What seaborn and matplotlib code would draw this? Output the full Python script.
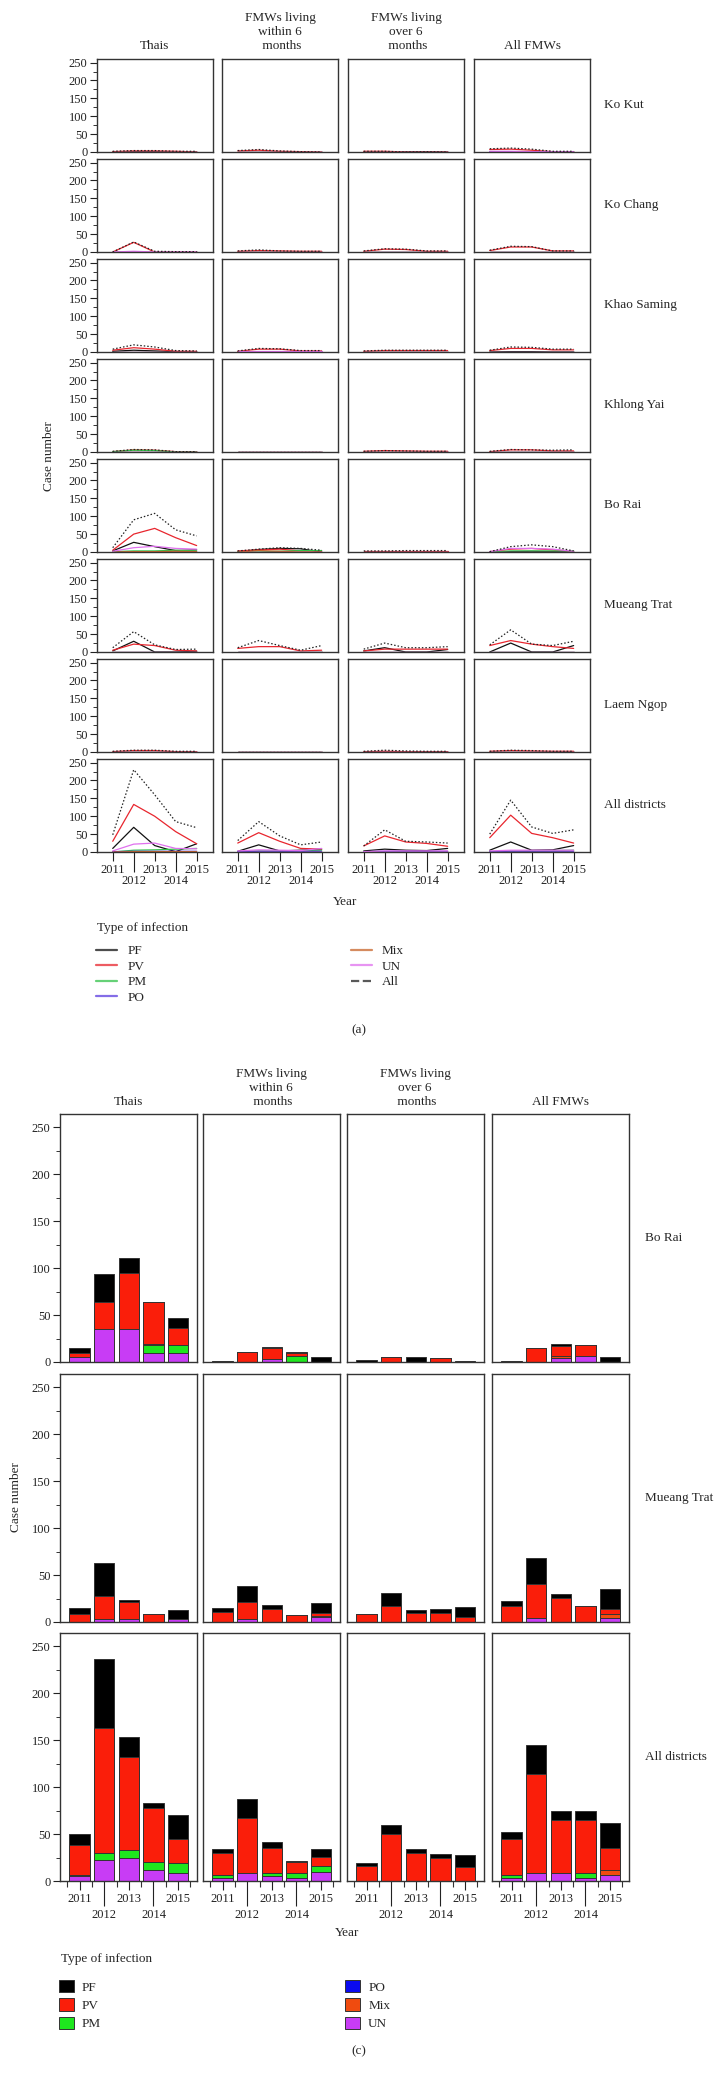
import numpy as np
import matplotlib
matplotlib.use("Agg")
import matplotlib.pyplot as plt
import seaborn as sns
from matplotlib.lines import Line2D
from matplotlib.patches import Patch

# ---- data -------------------------------------------------------------
years = [2011, 2012, 2013, 2014, 2015]
year_labels = [str(y) for y in years]
groups = ["Thais", "FMWs living\nwithin 6\n months", "FMWs living\nover 6\n months", "All FMWs"]
districts_a = ["Ko Kut", "Ko Chang", "Khao Saming", "Khlong Yai", "Bo Rai",
               "Mueang Trat", "Laem Ngop", "All districts"]
districts_c = ["Bo Rai", "Mueang Trat", "All districts"]

z = [0, 0, 0, 0, 0]

# (a) line panels: [district][group][year]
line_pf = [
    [[0, 1, 1, 0, 0], z, [0, 0, 1, 1, 0], z],
    [z, z, z, z],
    [[2, 5, 3, 1, 1], [0, 1, 1, 0, 0], z, [0, 1, 1, 0, 0]],
    [z, z, z, z],
    [[3, 27, 15, 4, 6], [0, 7, 10, 9, 0], z, [0, 1, 2, 1, 0]],
    [[3, 30, 0, 0, 2], z, [3, 12, 0, 0, 7], [0, 25, 0, 0, 18]],
    [z, z, z, z],
    [[10, 69, 18, 1, 23], [2, 20, 3, 5, 8], [3, 8, 5, 4, 10], [5, 28, 5, 6, 18]],
]
line_pv = [
    [[1, 3, 3, 2, 0], [3, 5, 2, 1, 0], [2, 2, 0, 0, 0], [7, 8, 5, 1, 1]],
    [[0, 27, 0, 0, 0], [2, 4, 3, 2, 2], [2, 8, 7, 2, 2], [4, 14, 14, 3, 3]],
    [[5, 12, 8, 2, 2], [2, 8, 8, 3, 3], [2, 4, 4, 4, 4], [4, 10, 10, 6, 6]],
    [[1, 6, 5, 1, 1], [1, 1, 1, 1, 1], [2, 4, 3, 2, 2], [1, 6, 6, 3, 3]],
    [[5, 50, 66, 40, 18], [3, 6, 8, 3, 3], [2, 2, 2, 2, 2], [1, 8, 10, 6, 2]],
    [[5, 22, 18, 5, 3], [10, 15, 15, 3, 5], [3, 8, 8, 8, 8], [18, 32, 22, 15, 10]],
    [[1, 4, 4, 1, 1], [1, 1, 1, 1, 1], [1, 2, 1, 1, 1], [2, 4, 3, 2, 2]],
    [[30, 133, 100, 57, 23], [25, 54, 30, 10, 8], [17, 45, 28, 24, 16], [40, 103, 52, 40, 25]],
]
line_pm = [
    [z, z, z, z],
    [z, z, z, z],
    [z, z, z, z],
    [[1, 5, 4, 0, 0], z, z, z],
    [[1, 3, 3, 5, 3], [0, 0, 2, 4, 4], z, [0, 3, 3, 3, 3]],
    [z, z, z, z],
    [z, z, z, z],
    [[0, 5, 6, 8, 10], [1, 3, 3, 4, 5], z, [1, 3, 3, 4, 5]],
]
line_po = [
    [z, z, z, [1, 1, 0, 0, 0]],
    [z, z, z, z],
    [z, z, z, z],
    [z, z, z, z],
    [z, z, z, z],
    [z, z, z, z],
    [z, [1, 1, 1, 1, 1], z, z],
    [[1, 2, 2, 2, 2], [1, 2, 2, 2, 2], [1, 2, 2, 2, 2], [1, 2, 2, 2, 2]],
]
line_mix = [
    [z, z, z, z],
    [z, z, z, z],
    [z, z, z, z],
    [z, z, z, z],
    [[0, 1, 1, 2, 1], [0, 4, 2, 0, 0], z, z],
    [z, z, z, z],
    [z, z, z, z],
    [[0, 1, 1, 1, 1], z, z, z],
]
line_un = [
    [z, z, z, [2, 2, 1, 0, 0]],
    [[0, 2, 0, 0, 0], z, z, z],
    [z, [3, 3, 3, 3, 3], z, z],
    [z, z, z, z],
    [[2, 12, 16, 10, 8], z, z, [1, 10, 10, 8, 2]],
    [z, z, z, z],
    [z, z, z, z],
    [[3, 22, 25, 10, 9], [3, 6, 5, 4, 10], [1, 3, 3, 3, 3], [3, 5, 5, 5, 5]],
]
line_all = [
    [[2, 4, 4, 2, 2], [4, 7, 3, 1, 0], [2, 2, 0, 1, 0], [9, 11, 8, 2, 2]],
    [[0, 28, 2, 1, 1], [3, 6, 3, 2, 2], [3, 9, 8, 3, 3], [5, 16, 15, 3, 3]],
    [[8, 20, 14, 4, 3], [3, 10, 9, 4, 4], [3, 5, 5, 5, 5], [5, 14, 13, 8, 8]],
    [[2, 7, 6, 1, 1], [1, 1, 1, 1, 1], [2, 4, 3, 2, 2], [2, 7, 6, 5, 6]],
    [[12, 90, 108, 62, 45], [3, 8, 12, 10, 5], [3, 3, 4, 4, 4], [1, 15, 20, 15, 3]],
    [[12, 57, 20, 7, 8], [12, 32, 18, 5, 18], [8, 25, 12, 12, 15], [20, 62, 22, 18, 30]],
    [[2, 5, 5, 2, 2], [1, 1, 1, 1, 1], [2, 5, 3, 2, 2], [2, 5, 4, 2, 2]],
    [[48, 230, 160, 85, 68], [32, 85, 45, 20, 28], [17, 62, 30, 28, 25], [50, 145, 70, 52, 62]],
]

# (c) stacked bars: [district][group][year]
bar_un = [
    [[5, 35, 35, 10, 10], [0, 0, 3, 0, 0], z, [0, 0, 4, 6, 0]],
    [[0, 3, 3, 0, 3], [0, 3, 0, 0, 5], z, [0, 4, 0, 0, 4]],
    [[5, 22, 25, 12, 9], [3, 8, 5, 3, 10], z, [3, 8, 8, 3, 6]],
]
bar_pm = [
    [[0, 0, 0, 8, 8], [0, 0, 0, 6, 0], z, z],
    [z, z, z, z],
    [[1, 8, 8, 8, 10], [3, 0, 3, 5, 6], z, [3, 0, 0, 5, 0]],
]
bar_mix = [
    [[0, 0, 0, 1, 0], z, z, [0, 0, 2, 0, 0]],
    [z, [0, 0, 0, 0, 1], z, [0, 0, 0, 0, 5]],
    [z, z, z, [0, 0, 0, 0, 6]],
]
bar_pv = [
    [[5, 29, 60, 45, 18], [0, 11, 12, 4, 0], [0, 5, 0, 4, 0], [0, 15, 11, 12, 0]],
    [[8, 25, 18, 9, 0], [11, 18, 14, 7, 4], [8, 17, 10, 10, 5], [17, 36, 26, 17, 5]],
    [[32, 133, 99, 58, 26], [24, 59, 27, 12, 10], [16, 50, 30, 24, 15], [39, 106, 57, 57, 23]],
]
bar_pf = [
    [[5, 30, 16, 0, 11], [1, 0, 1, 1, 5], [2, 0, 5, 0, 1], [1, 0, 2, 0, 5]],
    [[7, 35, 2, 0, 10], [4, 17, 4, 0, 10], [0, 14, 3, 4, 11], [5, 28, 4, 0, 21]],
    [[12, 73, 21, 5, 25], [4, 20, 6, 1, 8], [3, 10, 4, 5, 13], [7, 31, 10, 10, 27]],
]

# ---- style ------------------------------------------------------------
line_types = ["PF", "PV", "PM", "PO", "Mix", "UN", "All"]
line_sets = [line_pf, line_pv, line_pm, line_po, line_mix, line_un, line_all]
line_colors = {"PF": "#111111", "PV": "#e8262e", "PM": "#33c24a", "PO": "#5b3ce0",
               "Mix": "#c8642a", "UN": "#e070ee", "All": "#222222"}
bar_types = ["UN", "PM", "Mix", "PV", "PF"]          # bottom -> top
bar_sets = [bar_un, bar_pm, bar_mix, bar_pv, bar_pf]
bar_colors = {"PF": "#000000", "PV": "#fa1e0a", "PM": "#1ee61e", "PO": "#0a0af0",
              "Mix": "#f04b0f", "UN": "#c83cf5"}

sns.set_theme(style="white")
plt.rcParams["font.family"] = ["Liberation Serif", "DejaVu Serif"]
plt.rcParams["axes.linewidth"] = 1.0
plt.rcParams["axes.edgecolor"] = "#333333"
plt.rcParams["xtick.color"] = "#333333"
plt.rcParams["ytick.color"] = "#333333"

W, H = 714, 2078
FS = 9.5
TS = 9
fig = plt.figure(figsize=(W / 100, H / 100), dpi=100)


def panel(x0, y0, w, h):
    return fig.add_axes([x0 / W, 1 - (y0 + h) / H, w / W, h / H])


def fx(x):
    return x / W


def fy(y):
    return 1 - y / H


def style_y(ax, first):
    if first:
        ax.set_yticks([0, 50, 100, 150, 200, 250])
        ax.set_yticks(np.arange(0, 251, 25), minor=True)
        ax.tick_params(axis="y", which="major", left=True, length=5, width=0.8,
                       labelsize=TS, pad=2, colors="#222222")
        ax.tick_params(axis="y", which="minor", left=True, length=3, width=0.7)
    else:
        ax.set_yticks([])
    ax.set_ylabel("")


def style_x(ax, major_len, minor_len):
    ax.tick_params(axis="x", which="major", bottom=True, length=major_len, width=0.8,
                   labelsize=TS, pad=2, colors="#222222")
    ax.tick_params(axis="x", which="minor", bottom=True, length=minor_len, width=0.8,
                   labelsize=TS, pad=2, colors="#222222")


# ---- (a) line panels ---------------------------------------------------
cols_a = [97, 222, 348, 474]
for i, dname in enumerate(districts_a):
    top = 59 + 100 * i
    for j in range(4):
        ax = panel(cols_a[j], top, 116, 93)
        for t, data in zip(line_types, line_sets):
            ls = (0, (1.2, 1.6)) if t == "All" else "-"
            sns.lineplot(x=years, y=data[i][j], color=line_colors[t], lw=0.9,
                         linestyle=ls, ax=ax)
        ax.set_xlim(2010.25, 2015.78)
        ax.set_ylim(0, 260)
        style_y(ax, j == 0)
        ax.set_xlabel("")
        if i == len(districts_a) - 1:
            ax.set_xticks([2011, 2013, 2015])
            ax.set_xticklabels(["2011", "2013", "2015"])
            ax.set_xticks([2012, 2014], minor=True)
            ax.set_xticklabels(["2012", "2014"], minor=True)
            style_x(ax, 6.5, 14.5)
        else:
            ax.set_xticks([])
    fig.text(fx(604), fy(top + 46), dname, ha="left", va="center", fontsize=FS)

for j, g in enumerate(groups):
    fig.text(fx(cols_a[j] + 58), fy(52), g, ha="center", va="bottom",
             fontsize=FS, linespacing=1.2)
fig.text(fx(49), fy(456), "Case number", rotation=90, ha="center", va="center", fontsize=FS)
fig.text(fx(345), fy(902), "Year", ha="center", va="center", fontsize=FS)
fig.text(fx(97), fy(928), "Type of infection", ha="left", va="center", fontsize=FS)

handles_a = [Line2D([], [], color=line_colors[t], lw=1.6, alpha=0.75,
                    linestyle="--" if t == "All" else "-") for t in line_types]
fig.legend(handles_a, line_types, loc="upper left", bbox_to_anchor=(fx(96), fy(945)),
           ncol=2, frameon=False, fontsize=FS, borderpad=0, borderaxespad=0,
           handlelength=1.6, handletextpad=0.76, columnspacing=15.5, labelspacing=0.25)
fig.text(fx(359), fy(1030), "(a)", ha="center", va="center", fontsize=FS)

# ---- (c) stacked bar panels -------------------------------------------
cols_c = [60, 203, 347, 492]
rows_c = [1114, 1374, 1633]
for i, dname in enumerate(districts_c):
    top = rows_c[i]
    for j in range(4):
        ax = panel(cols_c[j], top, 137, 248)
        stack = np.cumsum([np.array(d[i][j]) for d in bar_sets], axis=0)
        for k in range(len(bar_types) - 1, -1, -1):
            sns.barplot(x=year_labels, y=stack[k], color=bar_colors[bar_types[k]],
                        saturation=1, width=0.83, edgecolor="#333333", linewidth=0.7,
                        errorbar=None, ax=ax)
        ax.set_xlim(-0.8, 4.77)
        ax.set_ylim(0, 264)
        style_y(ax, j == 0)
        ax.set_xlabel("")
        if i == len(districts_c) - 1:
            ax.set_xticks([0, 2, 4])
            ax.set_xticklabels(["2011", "2013", "2015"])
            ax.set_xticks([1, 3], minor=True)
            ax.set_xticklabels(["2012", "2014"], minor=True)
            style_x(ax, 6.5, 18)
            sec = ax.secondary_xaxis("bottom")
            sec.set_xticks(np.arange(len(years) + 1) - 0.5)
            sec.tick_params(length=4.3, width=0.8, labelbottom=False)
            sec.spines["bottom"].set_visible(False)
        else:
            ax.set_xticks([])
    fig.text(fx(645), fy(top + 124), dname, ha="left", va="center", fontsize=FS)

for j, g in enumerate(groups):
    fig.text(fx(cols_c[j] + 68), fy(1108), g, ha="center", va="bottom",
             fontsize=FS, linespacing=1.2)
fig.text(fx(16), fy(1497), "Case number", rotation=90, ha="center", va="center", fontsize=FS)
fig.text(fx(347), fy(1933), "Year", ha="center", va="center", fontsize=FS)
fig.text(fx(61), fy(1959), "Type of infection", ha="left", va="center", fontsize=FS)

bar_legend = ["PF", "PV", "PM", "PO", "Mix", "UN"]
handles_c = [Patch(facecolor=bar_colors[t], edgecolor="#333333", linewidth=0.7)
             for t in bar_legend]
fig.legend(handles_c, bar_legend, loc="upper left", bbox_to_anchor=(fx(59), fy(1980)),
           ncol=2, frameon=False, fontsize=FS, borderpad=0, borderaxespad=0,
           handlelength=1.14, handleheight=1.06, handletextpad=0.6,
           columnspacing=18.5, labelspacing=0.35)
fig.text(fx(359), fy(2051), "(c)", ha="center", va="center", fontsize=FS)

fig.savefig("out.png", dpi=100)
